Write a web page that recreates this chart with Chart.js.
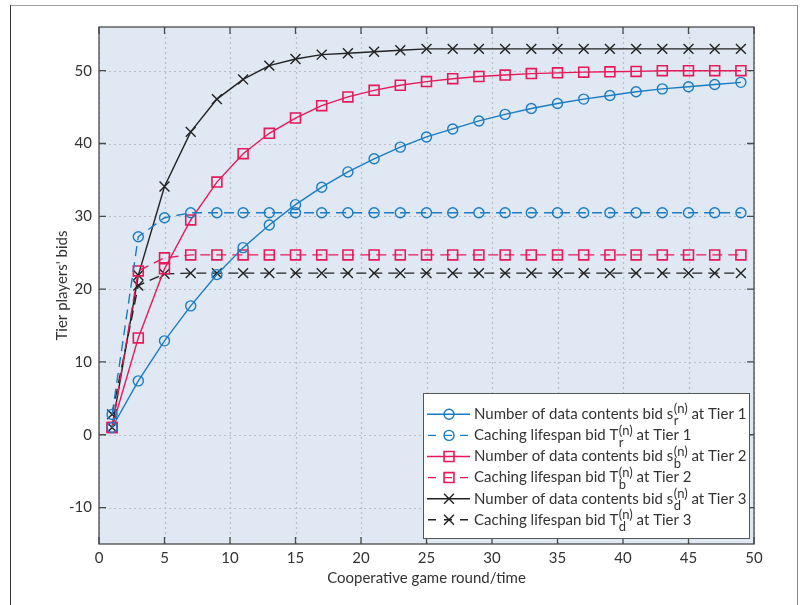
<!DOCTYPE html>
<html>
<head>
<meta charset="utf-8">
<script src="https://cdn.jsdelivr.net/npm/chart.js@4"></script>
<style>
  html, body { margin: 0; padding: 0; background: #fff; }
  #chart { display: block; }
</style>
</head>
<body>
<canvas id="chart" width="806" height="605"></canvas>
<script>
// game rounds where a marker sits
const rounds = [1, 3, 5, 7, 9, 11, 13, 15, 17, 19, 21, 23, 25, 27, 29, 31, 33, 35, 37, 39, 41, 43, 45, 47, 49];

// Tier 1
const contentsTier1 = [1.0, 7.4, 12.9, 17.7, 22.0, 25.7, 28.8, 31.6, 34.0, 36.1, 37.9, 39.5, 40.9, 42.0, 43.1, 44.0, 44.8, 45.5, 46.1, 46.6, 47.1, 47.5, 47.8, 48.1, 48.4];
const lifespanTier1 = [2.8, 27.2, 29.8, 30.5, 30.5, 30.5, 30.5, 30.5, 30.5, 30.5, 30.5, 30.5, 30.5, 30.5, 30.5, 30.5, 30.5, 30.5, 30.5, 30.5, 30.5, 30.5, 30.5, 30.5, 30.5];
// Tier 2
const contentsTier2 = [1.0, 13.3, 22.8, 29.5, 34.7, 38.6, 41.4, 43.5, 45.2, 46.4, 47.3, 48.0, 48.5, 48.9, 49.2, 49.4, 49.6, 49.7, 49.8, 49.85, 49.9, 50.0, 50.0, 50.0, 50.0];
const lifespanTier2 = [1.0, 22.5, 24.3, 24.7, 24.7, 24.7, 24.7, 24.7, 24.7, 24.7, 24.7, 24.7, 24.7, 24.7, 24.7, 24.7, 24.7, 24.7, 24.7, 24.7, 24.7, 24.7, 24.7, 24.7, 24.7];
// Tier 3
const contentsTier3 = [1.0, 21.9, 34.1, 41.6, 46.1, 48.8, 50.7, 51.6, 52.2, 52.4, 52.6, 52.8, 53.0, 53.0, 53.0, 53.0, 53.0, 53.0, 53.0, 53.0, 53.0, 53.0, 53.0, 53.0, 53.0];
const lifespanTier3 = [2.8, 20.5, 22.1, 22.2, 22.2, 22.2, 22.2, 22.2, 22.2, 22.2, 22.2, 22.2, 22.2, 22.2, 22.2, 22.2, 22.2, 22.2, 22.2, 22.2, 22.2, 22.2, 22.2, 22.2, 22.2];

const xTicks = [0, 5, 10, 15, 20, 25, 30, 35, 40, 45, 50];
const yTicks = [-10, 0, 10, 20, 30, 40, 50];

// legend text pieces: main text, subscript, superscript, tail
const legendItems = [
  ['Number of data contents bid s', 'r', '(n)', ' at Tier 1'],
  ['Caching lifespan bid T', 'r', '(n)', ' at Tier 1'],
  ['Number of data contents bid s', 'b', '(n)', ' at Tier 2'],
  ['Caching lifespan bid T', 'b', '(n)', ' at Tier 2'],
  ['Number of data contents bid s', 'd', '(n)', ' at Tier 3'],
  ['Caching lifespan bid T', 'd', '(n)', ' at Tier 3']
];

const FONT = 'Lato, "Open Sans", sans-serif';
const BLUE = '#1a7dc3';
const RED = '#e8195a';
const BLACK = '#222';

function pts(arr) {
  return rounds.map((x, i) => ({ x: x, y: arr[i] }));
}

function series(arr, color, style, dashed, r) {
  return {
    data: pts(arr),
    borderColor: color,
    borderWidth: 1.4,
    borderDash: dashed ? [10, 6] : [],
    pointStyle: style,
    pointRadius: r,
    pointBorderColor: color,
    pointBorderWidth: style === 'rect' ? 1.6 : 1.4,
    pointBackgroundColor: 'rgba(0,0,0,0)',
    tension: 0,
    fill: false
  };
}

const datasets = [
  series(contentsTier1, BLUE, 'circle', false, 5),
  series(lifespanTier1, BLUE, 'circle', true, 5),
  series(contentsTier2, RED, 'rect', false, 7),
  series(lifespanTier2, RED, 'rect', true, 7),
  series(contentsTier3, BLACK, 'crossRot', false, 7),
  series(lifespanTier3, BLACK, 'crossRot', true, 7)
];

// background, dotted grid, outer frame, axes box, inward ticks, titles, legend
const decor = {
  id: 'decor',
  beforeDraw(chart) {
    const { ctx, chartArea: a } = chart;
    ctx.save();
    ctx.fillStyle = '#fff';
    ctx.fillRect(0, 0, chart.width, chart.height);
    ctx.fillStyle = '#dfe8f3';
    ctx.fillRect(a.left, a.top, a.right - a.left, a.bottom - a.top);
    // outer frame
    ctx.lineWidth = 1;
    ctx.strokeStyle = '#a0a0a0';
    ctx.beginPath(); ctx.moveTo(10, 5.5); ctx.lineTo(797.5, 5.5); ctx.stroke();
    ctx.strokeStyle = '#333';
    ctx.beginPath(); ctx.moveTo(10.5, 5); ctx.lineTo(10.5, 605); ctx.stroke();
    ctx.strokeStyle = '#8a8a8a';
    ctx.beginPath(); ctx.moveTo(797.5, 5); ctx.lineTo(797.5, 605); ctx.stroke();
    ctx.restore();
  },
  beforeDatasetsDraw(chart) {
    const { ctx, chartArea: a, scales } = chart;
    ctx.save();
    ctx.strokeStyle = '#bcbfc4';
    ctx.lineWidth = 1.2;
    ctx.setLineDash([2, 3]);
    ctx.beginPath();
    xTicks.forEach(v => {
      const px = Math.round(scales.x.getPixelForValue(v)) + 0.5;
      ctx.moveTo(px, a.top); ctx.lineTo(px, a.bottom);
    });
    yTicks.forEach(v => {
      const py = Math.round(scales.y.getPixelForValue(v)) + 0.5;
      ctx.moveTo(a.left, py); ctx.lineTo(a.right, py);
    });
    ctx.stroke();
    ctx.restore();
  },
  afterDraw(chart) {
    const { ctx, chartArea: a, scales } = chart;
    const xs = scales.x, ys = scales.y;
    ctx.save();
    ctx.strokeStyle = '#4a4a4a';
    ctx.lineWidth = 1.3;
    ctx.strokeRect(a.left, a.top, a.right - a.left, a.bottom - a.top);
    ctx.beginPath();
    xTicks.forEach(v => {
      const px = xs.getPixelForValue(v);
      ctx.moveTo(px, a.bottom); ctx.lineTo(px, a.bottom - 7);
      ctx.moveTo(px, a.top); ctx.lineTo(px, a.top + 7);
    });
    yTicks.forEach(v => {
      const py = ys.getPixelForValue(v);
      ctx.moveTo(a.left, py); ctx.lineTo(a.left + 7, py);
      ctx.moveTo(a.right, py); ctx.lineTo(a.right - 7, py);
    });
    ctx.stroke();

    // axis titles
    ctx.fillStyle = '#333';
    ctx.font = '15px ' + FONT;
    ctx.textAlign = 'center';
    ctx.textBaseline = 'middle';
    ctx.fillText('Cooperative game round/time', (a.left + a.right) / 2, 578);
    ctx.translate(62, (a.top + a.bottom) / 2);
    ctx.rotate(-Math.PI / 2);
    ctx.fillText("Tier players' bids", 0, 0);
    ctx.restore();

    // legend
    ctx.save();
    const box = { l: 423.5, t: 393.5, r: 749.5, b: 538.5 };
    ctx.fillStyle = '#fff';
    ctx.fillRect(box.l, box.t, box.r - box.l, box.b - box.t);
    ctx.strokeStyle = '#555';
    ctx.lineWidth = 1;
    ctx.strokeRect(box.l, box.t, box.r - box.l, box.b - box.t);
    legendItems.forEach((item, i) => {
      const ds = datasets[i];
      const y = 414.3 + i * 21.1;
      ctx.strokeStyle = ds.borderColor;
      ctx.lineWidth = ds.borderWidth;
      ctx.setLineDash(ds.borderDash.length ? [8, 8] : []);
      ctx.lineDashOffset = ds.borderDash.length ? -1 : 0;
      ctx.beginPath(); ctx.moveTo(427, y); ctx.lineTo(470, y); ctx.stroke();
      ctx.setLineDash([]);
      ctx.lineWidth = ds.pointBorderWidth;
      ctx.fillStyle = 'rgba(0,0,0,0)';
      Chart.helpers.drawPoint(ctx, { pointStyle: ds.pointStyle, radius: ds.pointRadius, borderWidth: ds.pointBorderWidth, rotation: 0 }, 449, y);

      ctx.fillStyle = '#333';
      ctx.textAlign = 'left';
      ctx.textBaseline = 'middle';
      ctx.font = '15px ' + FONT;
      let x = 474;
      ctx.fillText(item[0], x, y);
      x += ctx.measureText(item[0]).width + 0.5;
      ctx.font = '13px ' + FONT;
      ctx.fillText(item[1], x, y + 7);
      const wSub = ctx.measureText(item[1]).width;
      ctx.fillText(item[2], x, y - 5);
      const wSup = ctx.measureText(item[2]).width;
      x += Math.max(wSub, wSup);
      ctx.font = '15px ' + FONT;
      ctx.fillText(item[3], x, y);
    });
    ctx.restore();
  }
};

const ctx = document.getElementById('chart');

new Chart(ctx, {
  type: 'line',
  data: { datasets: datasets },
  options: {
    responsive: false,
    animation: false,
    events: [],
    layout: { padding: { left: 0, right: 52, top: 27, bottom: 0 } },
    plugins: {
      legend: { display: false },
      tooltip: { enabled: false }
    },
    scales: {
      x: {
        type: 'linear',
        min: 0,
        max: 50,
        afterBuildTicks: s => { s.ticks = xTicks.map(v => ({ value: v })); },
        afterFit: s => { s.height = 61; },
        ticks: { color: '#333', font: { family: FONT, size: 15 }, padding: 5, maxRotation: 0 },
        grid: { display: false, drawTicks: false },
        border: { display: false }
      },
      y: {
        type: 'linear',
        min: -15,
        max: 56,
        afterBuildTicks: s => { s.ticks = yTicks.map(v => ({ value: v })); },
        afterFit: s => { s.width = 99; },
        ticks: { color: '#333', font: { family: FONT, size: 15 }, padding: 7 },
        grid: { display: false, drawTicks: false },
        border: { display: false }
      }
    }
  },
  plugins: [decor]
});
</script>
</body>
</html>
